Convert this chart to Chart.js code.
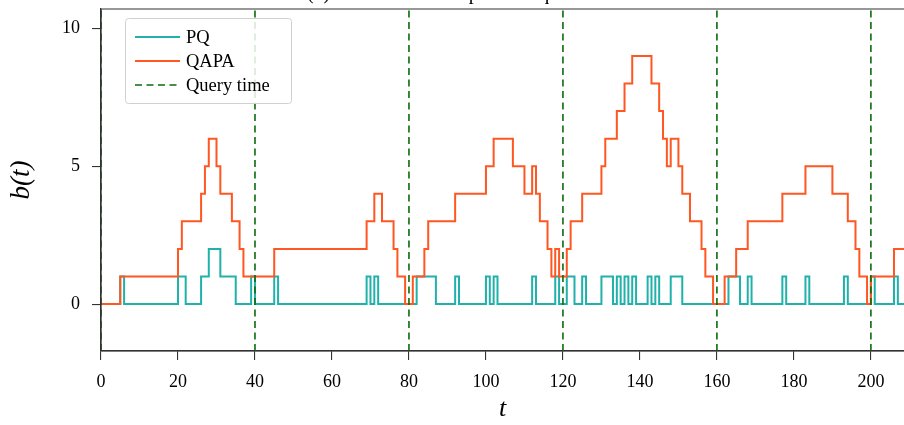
<!DOCTYPE html>
<html>
<head>
<meta charset="utf-8">
<script src="https://cdn.jsdelivr.net/npm/chart.js@4.4.1/dist/chart.umd.min.js"></script>
<style>
  html, body { margin: 0; padding: 0; background: #fff; }
</style>
</head>
<body>
<canvas id="bufferChart" width="904" height="425"></canvas>
<script>
// b(t) for each policy: value holds from times[i] until times[i + 1]
const pqTimes = [0, 5, 6, 20, 22, 26, 28, 31, 35, 39, 40, 45, 46, 69, 70, 71, 72, 82, 87, 92, 93,
  100, 101, 102, 103, 112, 113, 118, 119, 121, 123, 125, 126, 130, 133, 134, 135, 136, 137, 138, 139,
  142, 143, 144, 145, 148, 151, 163, 166, 168, 169, 177, 178, 183, 184, 193, 194, 200, 201, 206, 207];
const pqValues = [0, 1, 0, 1, 0, 1, 2, 1, 0, 1, 0, 1, 0, 1, 0, 1, 0, 1, 0, 1, 0,
  1, 0, 1, 0, 1, 0, 1, 0, 1, 0, 1, 0, 1, 0, 1, 0, 1, 0, 1, 0,
  1, 0, 1, 0, 1, 0, 1, 0, 1, 0, 1, 0, 1, 0, 1, 0, 1, 0, 1, 0];

const qapaTimes = [0, 5, 20, 21, 26, 27, 28, 30, 31, 34, 36, 37, 45, 69, 71, 73, 76, 77, 79, 81, 84, 85,
  92, 100, 102, 107, 110, 112, 113, 114, 116, 117, 118, 119, 121, 122, 125, 130, 131, 134, 136, 138,
  143, 145, 146, 147, 148, 150, 151, 153, 156, 157, 159, 162, 165, 168, 177, 183, 190, 194, 196, 197,
  199, 200, 206];
const qapaValues = [0, 1, 2, 3, 4, 5, 6, 5, 4, 3, 2, 1, 2, 3, 4, 3, 2, 1, 0, 1, 2, 3,
  4, 5, 6, 5, 4, 5, 4, 3, 2, 1, 2, 1, 2, 3, 4, 5, 6, 7, 8, 9,
  8, 7, 6, 5, 6, 5, 4, 3, 2, 1, 0, 1, 2, 3, 4, 5, 4, 3, 2, 1,
  0, 1, 2];

const queryTimes = [0, 40, 80, 120, 160, 200];

const xTicks = [0, 20, 40, 60, 80, 100, 120, 140, 160, 180, 200];
const yTicks = [0, 5, 10];
const tMax = 208.6;
const yMin = -1.7;
const yMax = 10.7;

const SERIF = '"Liberation Serif", "DejaVu Serif", serif';
const AXIS_COLOR = '#333333';

function stepPoints(times, values) {
  const pts = times.map((t, i) => ({ x: t, y: values[i] }));
  pts.push({ x: tMax, y: values[values.length - 1] });
  return pts;
}

// one vertical segment per query, separated by gaps
const queryLines = [];
queryTimes.forEach(t => {
  queryLines.push({ x: t, y: yMin }, { x: t, y: yMax }, { x: t, y: null });
});

// spines on top of the lines, clipped title and the boxed legend
const decorations = {
  id: 'decorations',
  afterDatasetsDraw(chart) {
    const { ctx, chartArea } = chart;
    ctx.save();
    ctx.strokeStyle = AXIS_COLOR;
    ctx.lineWidth = 1.2;
    ctx.beginPath();
    ctx.moveTo(chartArea.right, chartArea.top);
    ctx.lineTo(chartArea.left, chartArea.top);
    ctx.lineTo(chartArea.left, chartArea.bottom);
    ctx.lineTo(chartArea.right, chartArea.bottom);
    ctx.stroke();

    ctx.fillStyle = '#000';
    ctx.font = '20px ' + SERIF;
    ctx.textAlign = 'center';
    ctx.textBaseline = 'alphabetic';
    ctx.fillText('(b) Buffer size with periodic queries', 452, -1);
    ctx.restore();
  },
  afterDraw(chart) {
    const { ctx } = chart;
    const box = { x: 125.5, y: 18.5, w: 166, h: 85 };
    ctx.save();
    ctx.beginPath();
    ctx.roundRect(box.x, box.y, box.w, box.h, 3);
    ctx.fillStyle = 'rgba(255,255,255,0.85)';
    ctx.fill();
    ctx.strokeStyle = '#d0d0d0';
    ctx.lineWidth = 1;
    ctx.stroke();

    const entries = chart.data.datasets.slice().reverse();
    ctx.font = '18.5px ' + SERIF;
    ctx.textAlign = 'left';
    ctx.textBaseline = 'middle';
    entries.forEach((ds, i) => {
      const y = 37 + i * 24;
      ctx.strokeStyle = ds.borderColor;
      ctx.lineWidth = ds.borderWidth;
      ctx.setLineDash(ds.borderDash || []);
      ctx.beginPath();
      ctx.moveTo(135, y);
      ctx.lineTo(180, y);
      ctx.stroke();
      ctx.setLineDash([]);
      ctx.fillStyle = '#000';
      ctx.fillText(ds.label, 186, y + 1);
    });
    ctx.restore();
  }
};

const ctx = document.getElementById('bufferChart');
new Chart(ctx, {
  type: 'line',
  data: {
    datasets: [
      {
        label: 'Query time',
        data: queryLines,
        borderColor: '#0b6b0b',
        borderWidth: 1.6,
        borderDash: [7, 4.5],
        pointRadius: 0,
        spanGaps: false
      },
      {
        label: 'QAPA',
        data: stepPoints(qapaTimes, qapaValues),
        borderColor: '#ff5722',
        borderWidth: 2,
        stepped: true,
        pointRadius: 0
      },
      {
        label: 'PQ',
        data: stepPoints(pqTimes, pqValues),
        borderColor: '#20b2aa',
        borderWidth: 2,
        stepped: true,
        pointRadius: 0
      }
    ]
  },
  options: {
    responsive: false,
    animation: false,
    devicePixelRatio: 1,
    layout: { padding: { top: 9, right: 0, bottom: 0, left: 0 } },
    plugins: {
      legend: { display: false },
      tooltip: { enabled: false }
    },
    scales: {
      x: {
        type: 'linear',
        min: 0,
        max: tMax,
        afterBuildTicks: axis => { axis.ticks = xTicks.map(v => ({ value: v })); },
        afterFit: axis => {
          axis.height = 74;
          axis.paddingLeft = 0;
          axis.paddingRight = 0;
        },
        grid: { drawOnChartArea: false, drawTicks: true, tickLength: 9, color: AXIS_COLOR, lineWidth: 1.1 },
        border: { display: true, color: AXIS_COLOR, width: 1.2 },
        ticks: { color: '#000', font: { family: SERIF, size: 18 }, padding: 11, maxRotation: 0 },
        title: {
          display: true,
          text: 't',
          color: '#000',
          font: { family: SERIF, size: 26, style: 'italic' },
          padding: { top: 0, bottom: 0 }
        }
      },
      y: {
        min: yMin,
        max: yMax,
        afterBuildTicks: axis => { axis.ticks = yTicks.map(v => ({ value: v })); },
        afterFit: axis => {
          axis.width = 101;
          axis.paddingTop = 0;
          axis.paddingBottom = 0;
        },
        grid: { drawOnChartArea: false, drawTicks: true, tickLength: 9, color: AXIS_COLOR, lineWidth: 1.1 },
        border: { display: true, color: AXIS_COLOR, width: 1.2 },
        ticks: { color: '#000', font: { family: SERIF, size: 18 }, padding: 12 },
        title: {
          display: true,
          text: 'b(t)',
          color: '#000',
          font: { family: SERIF, size: 27, style: 'italic' },
          padding: { top: 6, bottom: 0 }
        }
      }
    }
  },
  plugins: [decorations]
});
</script>
</body>
</html>
